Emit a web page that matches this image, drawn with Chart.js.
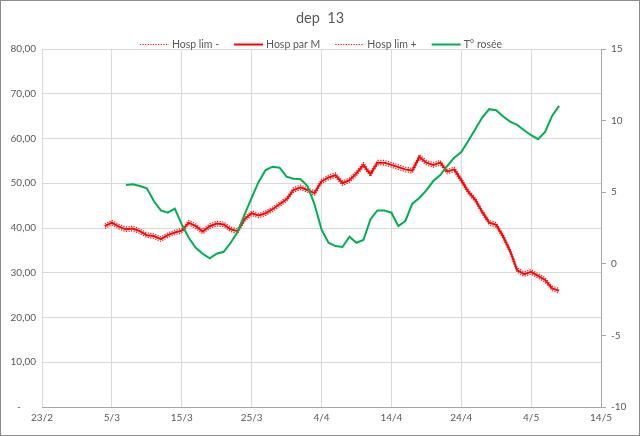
<!DOCTYPE html>
<html>
<head>
<meta charset="utf-8">
<script src="https://cdn.jsdelivr.net/npm/chart.js@4.4.1/dist/chart.umd.min.js"></script>
<style>
  html, body { margin: 0; padding: 0; background: #fff; }
</style>
</head>
<body>
<canvas id="chart" width="640" height="436"></canvas>
<script>
// dep 13 - hospitalisations vs dew point

// Data
const firstDate = new Date(2021, 1, 23);   // 23/2
const dayCount = 81;                        // 23/2 .. 14/5
const hospStart = 9;                        // 4/3
const tempStart = 12;                       // 7/3

const hospParM = [
  40.4, 41.2, 40.3, 39.7, 39.9, 39.3, 38.4, 38.2, 37.5, 38.4,
  39.0, 39.4, 41.2, 40.4, 39.2, 40.4, 41.0, 40.8, 39.7, 39.3,
  42.0, 43.3, 42.8, 43.3, 44.2, 45.3, 46.4, 48.5, 49.1, 48.5,
  47.8, 50.4, 51.3, 51.8, 50.0, 50.7, 52.2, 54.1, 52.0, 54.6,
  54.6, 54.1, 53.6, 53.1, 52.8, 55.9, 54.6, 54.1, 54.6, 52.6,
  53.1, 50.7, 48.1, 46.3, 43.6, 41.2, 40.7, 38.1, 34.8, 30.6,
  29.7, 30.2, 29.3, 28.4, 26.5, 26.0
];
const hospLimMoins = [
  39.9, 40.7, 39.8, 39.2, 39.4, 38.8, 37.9, 37.7, 37.0, 37.9,
  38.5, 38.9, 40.7, 39.9, 38.7, 39.9, 40.5, 40.3, 39.2, 38.8,
  41.5, 42.8, 42.3, 42.8, 43.7, 44.8, 45.9, 48.0, 48.6, 48.0,
  47.3, 49.9, 50.8, 51.3, 49.5, 50.2, 51.7, 53.6, 51.5, 54.1,
  54.1, 53.6, 53.1, 52.6, 52.3, 55.4, 54.1, 53.6, 54.1, 52.1,
  52.6, 50.2, 47.6, 45.8, 43.1, 40.7, 40.2, 37.6, 34.3, 30.1,
  29.2, 29.7, 28.8, 27.9, 26.0, 25.5
];
const hospLimPlus = [
  40.9, 41.7, 40.8, 40.2, 40.4, 39.8, 38.9, 38.7, 38.0, 38.9,
  39.5, 39.9, 41.7, 40.9, 39.7, 40.9, 41.5, 41.3, 40.2, 39.8,
  42.5, 43.8, 43.3, 43.8, 44.7, 45.8, 46.9, 49.0, 49.6, 49.0,
  48.3, 50.9, 51.8, 52.3, 50.5, 51.2, 52.7, 54.6, 52.5, 55.1,
  55.1, 54.6, 54.1, 53.6, 53.3, 56.4, 55.1, 54.6, 55.1, 53.1,
  53.6, 51.2, 48.6, 46.8, 44.1, 41.7, 41.2, 38.6, 35.3, 31.1,
  30.2, 30.7, 29.8, 28.9, 27.0, 26.5
];
const tRosee = [
  5.50, 5.55, 5.43, 5.27, 4.38, 3.73, 3.57, 3.85, 2.75, 1.82,
  1.12, 0.70, 0.38, 0.70, 0.84, 1.47, 2.24, 3.45, 4.60, 5.72,
  6.55, 6.78, 6.71, 6.08, 5.94, 5.90, 5.43, 4.15, 2.40, 1.47,
  1.24, 1.17, 1.89, 1.47, 1.66, 3.10, 3.73, 3.73, 3.57, 2.64,
  2.99, 4.20, 4.60, 5.13, 5.78, 6.20, 6.83, 7.41, 7.81, 8.58,
  9.40, 10.21, 10.80, 10.73, 10.28, 9.93, 9.70, 9.33, 8.98, 8.70,
  9.21, 10.33, 11.03
];

// Category labels (d/m)
const labels = [];
for (let i = 0; i < dayCount; i++) {
  const d = new Date(firstDate.getFullYear(), firstDate.getMonth(), firstDate.getDate() + i);
  labels.push(d.getDate() + '/' + (d.getMonth() + 1));
}

function padSeries(values, start) {
  const out = new Array(dayCount).fill(null);
  values.forEach((v, i) => { out[start + i] = v; });
  return out;
}

const FONT = 'Lato, "Liberation Sans", sans-serif';
const TEXT = '#595959';
const GRID = '#d9d9d9';
const AXIS = '#a6a6a6';

const datasets = [
  {
    label: 'Hosp lim -',
    data: padSeries(hospLimMoins, hospStart),
    borderColor: '#ff0000',
    borderWidth: 1.2,
    borderDash: [1.2, 1.4],
    yAxisID: 'yL',
    order: 3
  },
  {
    label: 'Hosp par M',
    data: padSeries(hospParM, hospStart),
    borderColor: '#ff0000',
    borderWidth: 2,
    yAxisID: 'yL',
    order: 2
  },
  {
    label: 'Hosp lim +',
    data: padSeries(hospLimPlus, hospStart),
    borderColor: '#ff0000',
    borderWidth: 1.2,
    borderDash: [1.2, 1.4],
    yAxisID: 'yL',
    order: 1
  },
  {
    label: 'T° rosée',
    data: padSeries(tRosee, tempStart),
    borderColor: '#00b050',
    borderWidth: 2,
    yAxisID: 'yR',
    order: 0
  }
];
datasets.forEach(ds => {
  ds.pointRadius = 0;
  ds.pointHoverRadius = 0;
  ds.tension = 0;
  ds.fill = false;
  ds.spanGaps = false;
});

// Title, legend and frame drawn by hand (Excel style)
const excelDecor = {
  id: 'excelDecor',
  beforeDraw(chart) {
    const ctx = chart.ctx;
    ctx.save();
    ctx.fillStyle = '#ffffff';
    ctx.fillRect(0, 0, chart.width, chart.height);
    ctx.restore();
  },
  afterDraw(chart) {
    const ctx = chart.ctx;
    ctx.save();

    // title
    ctx.fillStyle = TEXT;
    ctx.font = '14.5px ' + FONT;
    ctx.textAlign = 'center';
    ctx.textBaseline = 'middle';
    ctx.fillText('dep  13', 320, 18);

    // legend
    ctx.font = '10.5px ' + FONT;
    ctx.textAlign = 'left';
    const sample = 29, gapText = 3, gapItem = 15;
    const items = chart.data.datasets;
    let total = 0;
    items.forEach((ds, i) => {
      total += sample + gapText + ctx.measureText(ds.label).width;
      if (i < items.length - 1) total += gapItem;
    });
    let x = 321 - total / 2;
    const y = 44.5;
    items.forEach(ds => {
      ctx.beginPath();
      ctx.strokeStyle = ds.borderColor;
      ctx.lineWidth = ds.borderWidth;
      ctx.setLineDash(ds.borderDash || []);
      ctx.moveTo(x, y);
      ctx.lineTo(x + sample, y);
      ctx.stroke();
      ctx.setLineDash([]);
      x += sample + gapText;
      ctx.fillStyle = TEXT;
      ctx.fillText(ds.label, x, y);
      x += ctx.measureText(ds.label).width + gapItem;
    });

    // outer frame
    ctx.strokeStyle = '#8c8c8c';
    ctx.lineWidth = 1;
    ctx.strokeRect(0.5, 0.5, chart.width - 1, chart.height - 1);
    ctx.restore();
  }
};

new Chart(document.getElementById('chart'), {
  type: 'line',
  data: { labels: labels, datasets: datasets },
  plugins: [excelDecor],
  options: {
    responsive: false,
    animation: false,
    devicePixelRatio: 1,
    layout: { padding: { top: 49, left: 0, right: 0, bottom: 0 } },
    plugins: {
      legend: { display: false },
      title: { display: false },
      tooltip: { enabled: false }
    },
    scales: {
      x: {
        type: 'category',
        offset: false,
        grid: {
          color: ctx => (ctx.index % 10 === 0 ? GRID : 'rgba(0,0,0,0)'),
          drawTicks: false
        },
        border: { color: AXIS },
        ticks: {
          autoSkip: false,
          maxRotation: 0,
          padding: 5,
          color: TEXT,
          font: { family: FONT, size: 10 },
          callback: (v, i) => (i % 10 === 0 ? labels[i] : '')
        },
        afterFit: s => { s.height = 29; }
      },
      yL: {
        position: 'left',
        min: 0,
        max: 80,
        grid: { color: GRID, drawTicks: false },
        border: { display: false },
        ticks: {
          stepSize: 10,
          padding: 6,
          color: TEXT,
          font: { family: FONT, size: 10 },
          callback: v => (v === 0 ? '-      ' : v.toFixed(2).replace('.', ','))
        },
        afterFit: s => { s.width = 42; }
      },
      yR: {
        position: 'right',
        min: -10,
        max: 15,
        grid: { drawOnChartArea: false, drawTicks: true, tickLength: 5, color: AXIS },
        border: { display: true, color: AXIS },
        ticks: {
          stepSize: 5,
          padding: 5,
          color: TEXT,
          font: { family: FONT, size: 10 }
        },
        afterFit: s => { s.width = 39; }
      }
    }
  }
});
</script>
</body>
</html>
